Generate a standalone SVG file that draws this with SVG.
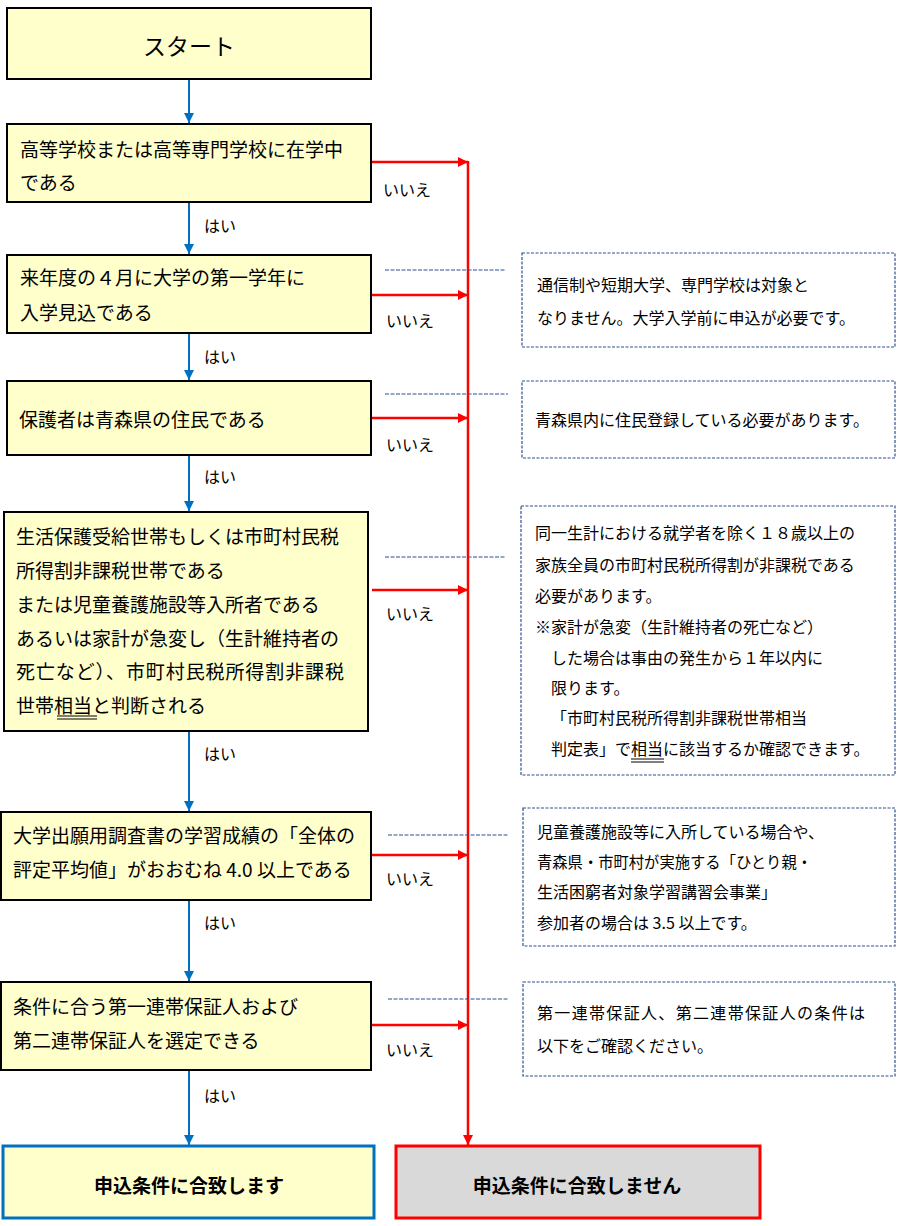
<svg xmlns="http://www.w3.org/2000/svg" width="901" height="1226" viewBox="0 0 901 1226">
<defs>
<marker id="ab" viewBox="0 0 10 10" refX="10" refY="5" markerWidth="10" markerHeight="10" markerUnits="userSpaceOnUse" orient="auto"><path d="M0,0 L10,5 L0,10 z" fill="#0070C0"/></marker>
<marker id="ar" viewBox="0 0 10 10" refX="10" refY="5" markerWidth="10" markerHeight="10" markerUnits="userSpaceOnUse" orient="auto"><path d="M0,0 L10,5 L0,10 z" fill="#FF0000"/></marker>
</defs>
<style>
text{font-family:"Noto Sans CJK JP","Noto Sans",sans-serif;fill:#000}
.box{fill:#FFFFCC;stroke:#000;stroke-width:2}
.m{font-size:19px}
.n{font-size:16px}
.lbl{font-size:16px}
.note{fill:#fff;stroke:#2F4F8F;stroke-width:1.2;stroke-dasharray:3,1.5}
.lead{stroke:#2F4F8F;stroke-width:1.2;stroke-dasharray:4,1.5}
.blue{stroke:#0070C0;stroke-width:2;fill:none}
.red{stroke:#FF0000;stroke-width:2.5;fill:none}
.b{font-size:19px;font-weight:bold}
</style>
<rect width="901" height="1226" fill="#fff"/>
<g id="connectors">
<line class="blue" x1="189" y1="80" x2="189" y2="123" marker-end="url(#ab)"/>
<line class="blue" x1="189" y1="203" x2="189" y2="254" marker-end="url(#ab)"/>
<line class="blue" x1="189" y1="334" x2="189" y2="380" marker-end="url(#ab)"/>
<line class="blue" x1="189" y1="456" x2="189" y2="511" marker-end="url(#ab)"/>
<line class="blue" x1="189" y1="732" x2="189" y2="811" marker-end="url(#ab)"/>
<line class="blue" x1="189" y1="901" x2="189" y2="981" marker-end="url(#ab)"/>
<line class="blue" x1="189" y1="1071" x2="189" y2="1145" marker-end="url(#ab)"/>
<line class="red" x1="372" y1="162" x2="468" y2="162" marker-end="url(#ar)"/>
<line class="red" x1="372" y1="295" x2="468" y2="295" marker-end="url(#ar)"/>
<line class="red" x1="372" y1="418" x2="468" y2="418" marker-end="url(#ar)"/>
<line class="red" x1="372" y1="590" x2="468" y2="590" marker-end="url(#ar)"/>
<line class="red" x1="372" y1="855" x2="468" y2="855" marker-end="url(#ar)"/>
<line class="red" x1="372" y1="1025" x2="468" y2="1025" marker-end="url(#ar)"/>
<line class="red" x1="468" y1="161" x2="468" y2="1145" marker-end="url(#ar)"/>
<line class="lead" x1="385" y1="270" x2="505" y2="270"/>
<line class="lead" x1="385" y1="394" x2="508" y2="394"/>
<line class="lead" x1="385" y1="557" x2="505" y2="557"/>
<line class="lead" x1="388" y1="835" x2="508" y2="835"/>
<line class="lead" x1="388" y1="999" x2="508" y2="999"/>
<g class="lbl">
<text x="383" y="196">いいえ</text>
<text x="386" y="327">いいえ</text>
<text x="386" y="451">いいえ</text>
<text x="386" y="620">いいえ</text>
<text x="386" y="885">いいえ</text>
<text x="386" y="1056">いいえ</text>
<text x="204" y="232">はい</text>
<text x="204" y="363">はい</text>
<text x="204" y="483">はい</text>
<text x="204" y="760">はい</text>
<text x="204" y="929">はい</text>
<text x="204" y="1102">はい</text>
</g>
</g>
<g id="start">
<rect class="box" x="7" y="8" width="364" height="71"/>
<text x="189" y="55" font-size="23" text-anchor="middle">スタート</text>
</g>
<g id="q1">
<rect class="box" x="7" y="124" width="364" height="78"/>
<text class="m" x="20" y="157">高等学校または高等専門学校に在学中</text>
<text class="m" x="20" y="190">である</text>
</g>
<g id="q2">
<rect class="box" x="7" y="255" width="364" height="78"/>
<text class="m" x="20" y="285">来年度の４月に大学の第一学年に</text>
<text class="m" x="20" y="320">入学見込である</text>
</g>
<g id="q3">
<rect class="box" x="7" y="381" width="364" height="74"/>
<text class="m" x="19" y="427">保護者は青森県の住民である</text>
</g>
<g id="q4">
<rect class="box" x="4" y="512" width="364" height="219"/>
<text class="m" x="16" y="544">生活保護受給世帯もしくは市町村民税</text>
<text class="m" x="16" y="578">所得割非課税世帯である</text>
<text class="m" x="16" y="612">または児童養護施設等入所者である</text>
<text class="m" x="16" y="646">あるいは家計が急変し（生計維持者の</text>
<text class="m" x="16" y="679" textLength="328" lengthAdjust="spacing">死亡など）、市町村民税所得割非課税</text>
<text class="m" x="16" y="713">世帯相当と判断される</text>
<line x1="57" y1="716" x2="97" y2="716" stroke="#000" stroke-width="1"/>
<line x1="57" y1="719" x2="97" y2="719" stroke="#000" stroke-width="1"/>
</g>
<g id="q5">
<rect class="box" x="1" y="812" width="370" height="88"/>
<text class="m" x="13" y="843">大学出願用調査書の学習成績の「全体の</text>
<text class="m" x="13" y="877">評定平均値」がおおむね 4.0 以上である</text>
</g>
<g id="q6">
<rect class="box" x="1" y="982" width="370" height="88"/>
<text class="m" x="13" y="1014">条件に合う第一連帯保証人および</text>
<text class="m" x="13" y="1048">第二連帯保証人を選定できる</text>
</g>
<g id="yes">
<rect x="3" y="1146" width="371" height="72" fill="#FFFFCC" stroke="#0070C0" stroke-width="3"/>
<text class="b" x="189" y="1193" text-anchor="middle">申込条件に合致します</text>
</g>
<g id="no">
<rect x="396" y="1146" width="364" height="72" fill="#D9D9D9" stroke="#FF0000" stroke-width="3"/>
<text class="b" x="577" y="1193" text-anchor="middle">申込条件に合致しません</text>
</g>
<g id="note1">
<rect class="note" x="522" y="253" width="373" height="94"/>
<text class="n" x="537" y="291">通信制や短期大学、専門学校は対象と</text>
<text class="n" x="537" y="324">なりません。大学入学前に申込が必要です。</text>
</g>
<g id="note2">
<rect class="note" x="522" y="381" width="373" height="77"/>
<text class="n" x="535" y="426">青森県内に住民登録している必要があります。</text>
</g>
<g id="note3">
<rect class="note" x="521" y="506" width="374" height="269"/>
<text class="n" x="535" y="539">同一生計における就学者を除く１８歳以上の</text>
<text class="n" x="535" y="571">家族全員の市町村民税所得割が非課税である</text>
<text class="n" x="535" y="602">必要があります。</text>
<text class="n" x="535" y="633">※家計が急変（生計維持者の死亡など）</text>
<text class="n" x="551" y="664">した場合は事由の発生から１年以内に</text>
<text class="n" x="551" y="694">限ります。</text>
<text class="n" x="551" y="724">「市町村民税所得割非課税世帯相当</text>
<text class="n" x="551" y="755">判定表」で相当に該当するか確認できます。</text>
<line x1="631" y1="759" x2="664" y2="759" stroke="#000" stroke-width="1"/>
<line x1="631" y1="762" x2="664" y2="762" stroke="#000" stroke-width="1"/>
</g>
<g id="note4">
<rect class="note" x="523" y="808" width="372" height="138"/>
<text class="n" x="537" y="838">児童養護施設等に入所している場合や、</text>
<text class="n" x="537" y="868" textLength="275" lengthAdjust="spacingAndGlyphs">青森県・市町村が実施する「ひとり親・</text>
<text class="n" x="537" y="898">生活困窮者対象学習講習会事業」</text>
<text class="n" x="537" y="929">参加者の場合は 3.5 以上です。</text>
</g>
<g id="note5">
<rect class="note" x="523" y="982" width="372" height="94"/>
<text class="n" x="537" y="1019" textLength="328" lengthAdjust="spacing">第一連帯保証人、第二連帯保証人の条件は</text>
<text class="n" x="537" y="1052">以下をご確認ください。</text>
</g>
</svg>
